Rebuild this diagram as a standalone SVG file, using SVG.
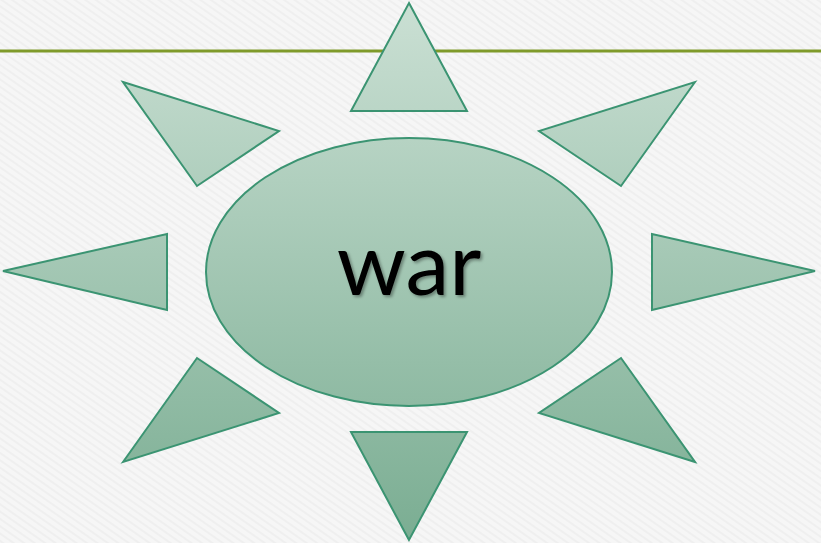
<svg xmlns="http://www.w3.org/2000/svg" width="821" height="543" viewBox="0 0 821 543">
<defs>
<pattern id="tex" width="6" height="6" patternUnits="userSpaceOnUse" patternTransform="rotate(-55)">
<rect width="6" height="6" fill="#f6f6f6"/>
<rect width="2" height="6" fill="#efefef"/>
</pattern>
<linearGradient id="g" gradientUnits="userSpaceOnUse" x1="0" y1="0" x2="0" y2="543">
<stop offset="0" stop-color="#cbe0d4"/>
<stop offset="1" stop-color="#7aad92"/>
</linearGradient>
<filter id="sh" x="-20%" y="-20%" width="140%" height="140%">
<feGaussianBlur in="SourceAlpha" stdDeviation="1.5"/>
<feOffset dx="2" dy="2" result="b"/>
<feFlood flood-color="#000" flood-opacity="0.35"/>
<feComposite in2="b" operator="in"/>
<feMerge><feMergeNode/><feMergeNode in="SourceGraphic"/></feMerge>
</filter>
</defs>
<style>
.s{fill:url(#g);stroke:#3b9472;stroke-width:2;stroke-linejoin:miter}
.t{font-family:Lato,"Open Sans",sans-serif;font-size:88px;fill:#000}
</style>
<rect width="821" height="543" fill="url(#tex)"/>
<line x1="0" y1="51" x2="821" y2="51" stroke="#7f9a2a" stroke-width="3"/>
<g id="ray-top"><polygon class="s" points="409,3 467,111 351,111"/></g>
<g id="ray-top-right"><polygon class="s" points="695,82 621,186 539,131"/></g>
<g id="ray-right"><polygon class="s" points="815,271 652,310 652,234"/></g>
<g id="ray-bottom-right"><polygon class="s" points="695,462 539,413 621,358"/></g>
<g id="ray-bottom"><polygon class="s" points="409,540 351,432 467,432"/></g>
<g id="ray-bottom-left"><polygon class="s" points="123,462 197,358 279,413"/></g>
<g id="ray-left"><polygon class="s" points="3,271 167,234 167,310"/></g>
<g id="ray-top-left"><polygon class="s" points="123,82 279,131 197,186"/></g>
<g id="center"><ellipse class="s" cx="409" cy="272" rx="203" ry="134"/>
<text class="t" x="409" y="295" text-anchor="middle" filter="url(#sh)">war</text></g>
</svg>
